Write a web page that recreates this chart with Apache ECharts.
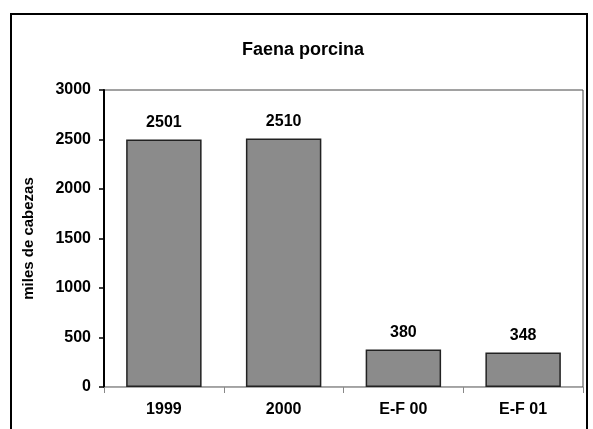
<!DOCTYPE html>
<html>
<head>
    <meta charset="utf-8">
    <title>Faena porcina</title>
    <script src="https://cdn.jsdelivr.net/npm/echarts@6/dist/echarts.min.js"></script>
    <style>
        html, body { margin: 0; padding: 0; background: #fff; }
    </style>
</head>
<body>
    <div id="main" style="width: 593px;height:429px;"></div>
    <script type="text/javascript">
        // datos
        var categories = ['1999', '2000', 'E-F 00', 'E-F 01'];
        var faena = [2501, 2510, 380, 348];
        var yTicks = [0, 500, 1000, 1500, 2000, 2500, 3000];

        var myChart = echarts.init(document.getElementById('main'));

        var font = 'Liberation Sans, Arial, sans-serif';

        option = {
            backgroundColor: '#fff',
            animation: false,
            title: {
                text: 'Faena porcina',
                left: 298,
                top: 36,
                textAlign: 'center',
                textStyle: {
                    fontFamily: font,
                    fontSize: 18,
                    fontWeight: 'bold',
                    color: '#000'
                }
            },
            // marco exterior
            graphic: [{
                type: 'rect',
                shape: { x: 11, y: 14, width: 576, height: 440 },
                style: { fill: 'none', stroke: '#000', lineWidth: 2 }
            }],
            grid: {
                left: 104,
                top: 90,
                right: 10,
                bottom: 42,
                show: true,
                borderColor: '#444',
                borderWidth: 1
            },
            xAxis: {
                type: 'category',
                data: categories,
                axisLine: { show: true, lineStyle: { color: '#aaa', width: 1 } },
                axisTick: { show: true, length: 6, lineStyle: { color: '#888' } },
                axisLabel: {
                    margin: 15,
                    fontFamily: font,
                    fontSize: 16,
                    fontWeight: 'bold',
                    color: '#000'
                }
            },
            yAxis: {
                type: 'value',
                min: yTicks[0],
                max: yTicks[yTicks.length - 1],
                interval: 500,
                name: 'miles de cabezas',
                nameLocation: 'middle',
                nameGap: 68,
                nameRotate: 90,
                nameTextStyle: {
                    fontFamily: font,
                    fontSize: 15,
                    fontWeight: 'bold',
                    color: '#000'
                },
                axisLine: { show: true, lineStyle: { color: '#000', width: 2 } },
                axisTick: { show: true, inside: false, length: 5, lineStyle: { color: '#000', width: 1.5 } },
                splitLine: { show: false },
                axisLabel: {
                    margin: 13,
                    formatter: function (v) { return String(v); },
                    fontFamily: font,
                    fontSize: 16,
                    fontWeight: 'bold',
                    color: '#000'
                }
            },
            series: [{
                name: 'Faena',
                type: 'bar',
                data: faena,
                barWidth: '63%',
                itemStyle: {
                    color: '#8b8b8b',
                    borderColor: '#222',
                    borderWidth: 1.5
                },
                label: {
                    show: true,
                    position: 'top',
                    distance: 9,
                    fontFamily: font,
                    fontSize: 16,
                    fontWeight: 'bold',
                    color: '#000'
                }
            }]
        };

        myChart.setOption(option);
    </script>
</body>
</html>
